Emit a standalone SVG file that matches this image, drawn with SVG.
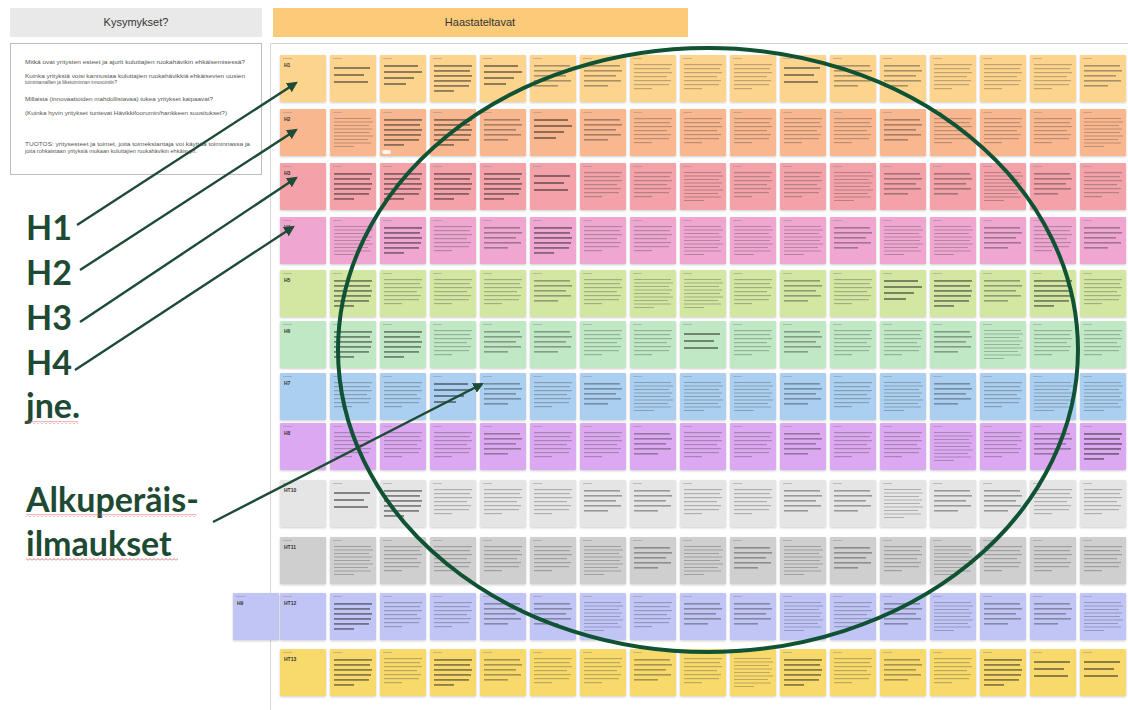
<svg xmlns="http://www.w3.org/2000/svg" xmlns:xlink="http://www.w3.org/1999/xlink" width="1128" height="710" viewBox="0 0 1128 710">
<style>
  .title{font-family:"Liberation Sans",Arial,sans-serif;font-size:11px;fill:#333;text-anchor:middle}
  .q{font-family:"Liberation Sans",Arial,sans-serif;font-size:5.6px;fill:#555}
  .big{font-family:Lato,"Open Sans",sans-serif;font-weight:bold;font-size:34px;fill:#1E4A33}
  .lab{font-family:"Liberation Sans",Arial,sans-serif;font-weight:bold;font-size:5px;fill:#333}
  .n{filter:url(#sh)}
  .hd{fill:#888;opacity:.45}
  .bd rect{fill:#1f1f1f;opacity:.5}
  .md rect{fill:#2a2a2a;opacity:.4}
  .th rect{fill:#333;opacity:.3}
  .r1{fill:#FCD48E}.r2{fill:#F9B78F}.r3{fill:#F2A2A8}.r4{fill:#EFA7D2}
  .r5{fill:#D2E7A2}.r6{fill:#C1E8C5}.r7{fill:#AACFF0}.r8{fill:#DCA8F1}
  .r9{fill:#E5E5E5}.r10{fill:#CFCFCF}.r11{fill:#C1C5F6}.r12{fill:#F8DA6C}
  .conn{stroke:#1D4B36;stroke-width:2.4;fill:none;marker-end:url(#ah)}
  .ring{stroke:#0F5234;stroke-width:4;fill:none}
</style>
<defs>
  <filter id="sh" x="-10%" y="-10%" width="120%" height="125%">
    <feDropShadow dx="0" dy="1" stdDeviation="0.8" flood-color="#000" flood-opacity="0.2"/>
  </filter>
  <marker id="ah" viewBox="0 0 10 10" refX="8" refY="5" markerWidth="4.5" markerHeight="4.5" orient="auto-start-reverse">
    <path d="M0,0 L10,5 L0,10 Z" fill="#1D4B36"/>
  </marker>
  <pattern id="wave" width="4" height="3" patternUnits="userSpaceOnUse">
    <path d="M0,2.5 L2,0.5 L4,2.5" stroke="#E0505A" stroke-width="0.8" fill="none"/>
  </pattern>
  <!-- note body layouts: bold / medium / thin lines of handwriting-sized copy -->
  <g id="tA"><rect class="hd" x="3" y="3" width="9" height="1"/><g class="bd"><rect x="4" y="10" width="34" height="2"/><rect x="4" y="16" width="38" height="2"/><rect x="4" y="22" width="30" height="2"/><rect x="4" y="28" width="22" height="2"/></g></g>
  <g id="tB"><rect class="hd" x="3" y="3" width="9" height="1"/><g class="th"><rect x="4" y="9" width="38" height="1.2"/><rect x="4" y="13" width="36" height="1.2"/><rect x="4" y="17" width="38" height="1.2"/><rect x="4" y="21" width="33" height="1.2"/><rect x="4" y="25" width="37" height="1.2"/><rect x="4" y="29" width="35" height="1.2"/><rect x="4" y="33" width="18" height="1.2"/></g></g>
  <g id="tC"><rect class="hd" x="3" y="3" width="9" height="1"/><g class="md"><rect x="4" y="10" width="36" height="1.6"/><rect x="4" y="15" width="38" height="1.6"/><rect x="4" y="20" width="32" height="1.6"/><rect x="4" y="25" width="37" height="1.6"/><rect x="4" y="30" width="24" height="1.6"/></g></g>
  <g id="tD"><rect class="hd" x="3" y="3" width="9" height="1"/><g class="th"><rect x="4" y="9" width="37" height="1"/><rect x="4" y="12.5" width="39" height="1"/><rect x="4" y="16" width="35" height="1"/><rect x="4" y="19.5" width="38" height="1"/><rect x="4" y="23" width="36" height="1"/><rect x="4" y="26.5" width="39" height="1"/><rect x="4" y="30" width="34" height="1"/><rect x="4" y="33.5" width="37" height="1"/><rect x="4" y="37" width="20" height="1"/></g></g>
  <g id="tE"><rect class="hd" x="3" y="3" width="9" height="1"/><g class="bd"><rect x="4" y="10" width="38" height="1.8"/><rect x="4" y="15" width="36" height="1.8"/><rect x="4" y="20" width="38" height="1.8"/><rect x="4" y="25" width="37" height="1.8"/><rect x="4" y="30" width="35" height="1.8"/><rect x="4" y="35" width="20" height="1.8"/></g></g>
  <g id="tF"><rect class="hd" x="3" y="3" width="9" height="1"/><g class="bd"><rect x="4" y="12" width="36" height="2"/><rect x="4" y="19" width="30" height="2"/><rect x="4" y="26" width="34" height="2"/></g></g>
  <!-- note card: fill comes from the row group -->
  <rect id="nb" class="n" width="46" height="47" rx="1"/>
</defs>

<rect width="1128" height="710" fill="#fff"/>

<!-- column headers -->
<g id="hdr-questions"><rect x="10" y="8" width="252" height="29" fill="#E9E9E9"/><text class="title" x="136" y="26">Kysymykset?</text></g>
<g id="hdr-interviewees"><rect x="273" y="8" width="415" height="29" fill="#FCCB7A"/><text class="title" x="480" y="26">Haastateltavat</text></g>

<!-- research questions -->
<g id="questions">
  <rect x="10.5" y="43.5" width="251" height="131" fill="#fff" stroke="#BDBDBD"/>
  <text class="q" x="25" y="64" textLength="220" lengthAdjust="spacingAndGlyphs">Mitkä ovat yritysten esteet ja ajurit kuluttajien ruokahävikin ehkäisemisessä?</text>
  <text class="q" x="25" y="78" textLength="220" lengthAdjust="spacingAndGlyphs">Kuinka yrityksiä voisi kannustaa kuluttajien ruokahävikkiä ehkäisevien uusien</text>
  <text class="q" x="25" y="84" textLength="92" lengthAdjust="spacingAndGlyphs">toimintamallien ja liiketoiminnan innovointiin?</text>
  <text class="q" x="25" y="101" textLength="188" lengthAdjust="spacingAndGlyphs">Millaista (innovaatioiden mahdollistavaa) tukea yritykset kaipaavat?</text>
  <text class="q" x="25" y="115" textLength="202" lengthAdjust="spacingAndGlyphs">(Kuinka hyvin yritykset tuntevat Hävikkifoorumin/hankkeen suositukset?)</text>
  <text class="q" x="25" y="146" textLength="225" lengthAdjust="spacingAndGlyphs">TUOTOS: yritysesteet ja toimet, joita toimeksiantaja voi käyttää toiminnassa ja</text>
  <text class="q" x="25" y="153" textLength="172" lengthAdjust="spacingAndGlyphs">joita rohkaistaan yrityksiä mukaan kuluttajien ruokahävikin ehkäisyyn.</text>
</g>

<!-- board frame -->
<g id="board-frame" fill="none" stroke="#D6D6D6">
  <path d="M270.5,710 V43.5 H1128"/>
</g>

<!-- annotation labels -->
<g id="labels">
  <text class="big" x="26" y="240">H1</text>
  <text class="big" x="26" y="285">H2</text>
  <text class="big" x="26" y="330">H3</text>
  <text class="big" x="26" y="375">H4</text>
  <text class="big" x="26" y="418">jne.</text>
  <rect x="26" y="421" width="52" height="3" fill="url(#wave)"/>
  <text class="big" x="26" y="512">Alkuperäis-</text>
  <rect x="26" y="514" width="170" height="3" fill="url(#wave)"/>
  <text class="big" x="26" y="556">ilmaukset</text>
  <rect x="26" y="558" width="152" height="3" fill="url(#wave)"/>
</g>

<!-- sticky notes, one row per interviewee -->
<g id="row-h1" class="r1">
<g id="h1-c0" transform="translate(280,55)"><use href="#nb"/><rect class="hd" x="3" y="3" width="9" height="1"/><text class="lab" x="4" y="12">H1</text></g>
<g id="h1-c1" transform="translate(330,55)"><use href="#nb"/><use href="#tF"/></g>
<g id="h1-c2" transform="translate(380,55)"><use href="#nb"/><use href="#tA"/></g>
<g id="h1-c3" transform="translate(430,55)"><use href="#nb"/><use href="#tE"/></g>
<g id="h1-c4" transform="translate(480,55)"><use href="#nb"/><use href="#tA"/></g>
<g id="h1-c5" transform="translate(530,55)"><use href="#nb"/><use href="#tC"/></g>
<g id="h1-c6" transform="translate(580,55)"><use href="#nb"/><use href="#tC"/></g>
<g id="h1-c7" transform="translate(630,55)"><use href="#nb"/><use href="#tB"/></g>
<g id="h1-c8" transform="translate(680,55)"><use href="#nb"/><use href="#tB"/></g>
<g id="h1-c9" transform="translate(730,55)"><use href="#nb"/><use href="#tB"/></g>
<g id="h1-c10" transform="translate(780,55)"><use href="#nb"/><use href="#tF"/></g>
<g id="h1-c11" transform="translate(830,55)"><use href="#nb"/><use href="#tC"/></g>
<g id="h1-c12" transform="translate(880,55)"><use href="#nb"/><use href="#tC"/></g>
<g id="h1-c13" transform="translate(930,55)"><use href="#nb"/><use href="#tB"/></g>
<g id="h1-c14" transform="translate(980,55)"><use href="#nb"/><use href="#tB"/></g>
<g id="h1-c15" transform="translate(1030,55)"><use href="#nb"/><use href="#tB"/></g>
<g id="h1-c16" transform="translate(1080,55)"><use href="#nb"/><use href="#tC"/></g>
</g>
<g id="row-h2" class="r2">
<g id="h2-c0" transform="translate(280,109)"><use href="#nb"/><rect class="hd" x="3" y="3" width="9" height="1"/><text class="lab" x="4" y="12">H2</text></g>
<g id="h2-c1" transform="translate(330,109)"><use href="#nb"/><use href="#tD"/></g>
<g id="h2-c2" transform="translate(380,109)"><use href="#nb"/><use href="#tE"/><rect x="2" y="41" width="9" height="4" rx="2" fill="#fff" opacity=".85"/></g>
<g id="h2-c3" transform="translate(430,109)"><use href="#nb"/><use href="#tE"/></g>
<g id="h2-c4" transform="translate(480,109)"><use href="#nb"/><use href="#tC"/></g>
<g id="h2-c5" transform="translate(530,109)"><use href="#nb"/><use href="#tA"/></g>
<g id="h2-c6" transform="translate(580,109)"><use href="#nb"/><use href="#tC"/></g>
<g id="h2-c7" transform="translate(630,109)"><use href="#nb"/><use href="#tB"/></g>
<g id="h2-c8" transform="translate(680,109)"><use href="#nb"/><use href="#tB"/></g>
<g id="h2-c9" transform="translate(730,109)"><use href="#nb"/><use href="#tB"/></g>
<g id="h2-c10" transform="translate(780,109)"><use href="#nb"/><use href="#tB"/></g>
<g id="h2-c11" transform="translate(830,109)"><use href="#nb"/><use href="#tB"/></g>
<g id="h2-c12" transform="translate(880,109)"><use href="#nb"/><use href="#tC"/></g>
<g id="h2-c13" transform="translate(930,109)"><use href="#nb"/><use href="#tB"/></g>
<g id="h2-c14" transform="translate(980,109)"><use href="#nb"/><use href="#tB"/></g>
<g id="h2-c15" transform="translate(1030,109)"><use href="#nb"/><use href="#tB"/></g>
<g id="h2-c16" transform="translate(1080,109)"><use href="#nb"/><use href="#tD"/></g>
</g>
<g id="row-h3" class="r3">
<g id="h3-c0" transform="translate(280,163)"><use href="#nb"/><rect class="hd" x="3" y="3" width="9" height="1"/><text class="lab" x="4" y="12">H3</text></g>
<g id="h3-c1" transform="translate(330,163)"><use href="#nb"/><use href="#tE"/></g>
<g id="h3-c2" transform="translate(380,163)"><use href="#nb"/><use href="#tE"/></g>
<g id="h3-c3" transform="translate(430,163)"><use href="#nb"/><use href="#tE"/></g>
<g id="h3-c4" transform="translate(480,163)"><use href="#nb"/><use href="#tE"/></g>
<g id="h3-c5" transform="translate(530,163)"><use href="#nb"/><use href="#tF"/></g>
<g id="h3-c6" transform="translate(580,163)"><use href="#nb"/><use href="#tB"/></g>
<g id="h3-c7" transform="translate(630,163)"><use href="#nb"/><use href="#tB"/></g>
<g id="h3-c8" transform="translate(680,163)"><use href="#nb"/><use href="#tD"/></g>
<g id="h3-c9" transform="translate(730,163)"><use href="#nb"/><use href="#tB"/></g>
<g id="h3-c10" transform="translate(780,163)"><use href="#nb"/><use href="#tB"/></g>
<g id="h3-c11" transform="translate(830,163)"><use href="#nb"/><use href="#tD"/></g>
<g id="h3-c12" transform="translate(880,163)"><use href="#nb"/><use href="#tC"/></g>
<g id="h3-c13" transform="translate(930,163)"><use href="#nb"/><use href="#tC"/></g>
<g id="h3-c14" transform="translate(980,163)"><use href="#nb"/><use href="#tD"/></g>
<g id="h3-c15" transform="translate(1030,163)"><use href="#nb"/><use href="#tC"/></g>
<g id="h3-c16" transform="translate(1080,163)"><use href="#nb"/><use href="#tB"/></g>
</g>
<g id="row-h4" class="r4">
<g id="h4-c0" transform="translate(280,217)"><use href="#nb"/><rect class="hd" x="3" y="3" width="9" height="1"/><text class="lab" x="4" y="12">H4</text></g>
<g id="h4-c1" transform="translate(330,217)"><use href="#nb"/><use href="#tD"/></g>
<g id="h4-c2" transform="translate(380,217)"><use href="#nb"/><use href="#tE"/></g>
<g id="h4-c3" transform="translate(430,217)"><use href="#nb"/><use href="#tB"/></g>
<g id="h4-c4" transform="translate(480,217)"><use href="#nb"/><use href="#tC"/></g>
<g id="h4-c5" transform="translate(530,217)"><use href="#nb"/><use href="#tE"/></g>
<g id="h4-c6" transform="translate(580,217)"><use href="#nb"/><use href="#tB"/></g>
<g id="h4-c7" transform="translate(630,217)"><use href="#nb"/><use href="#tB"/></g>
<g id="h4-c8" transform="translate(680,217)"><use href="#nb"/><use href="#tD"/></g>
<g id="h4-c9" transform="translate(730,217)"><use href="#nb"/><use href="#tD"/></g>
<g id="h4-c10" transform="translate(780,217)"><use href="#nb"/><use href="#tD"/></g>
<g id="h4-c11" transform="translate(830,217)"><use href="#nb"/><use href="#tC"/></g>
<g id="h4-c12" transform="translate(880,217)"><use href="#nb"/><use href="#tD"/></g>
<g id="h4-c13" transform="translate(930,217)"><use href="#nb"/><use href="#tD"/></g>
<g id="h4-c14" transform="translate(980,217)"><use href="#nb"/><use href="#tC"/></g>
<g id="h4-c15" transform="translate(1030,217)"><use href="#nb"/><use href="#tB"/></g>
<g id="h4-c16" transform="translate(1080,217)"><use href="#nb"/><use href="#tC"/></g>
</g>
<g id="row-h5" class="r5">
<g id="h5-c0" transform="translate(280,270)"><use href="#nb"/><rect class="hd" x="3" y="3" width="9" height="1"/><text class="lab" x="4" y="12">H5</text></g>
<g id="h5-c1" transform="translate(330,270)"><use href="#nb"/><use href="#tE"/></g>
<g id="h5-c2" transform="translate(380,270)"><use href="#nb"/><use href="#tB"/></g>
<g id="h5-c3" transform="translate(430,270)"><use href="#nb"/><use href="#tB"/></g>
<g id="h5-c4" transform="translate(480,270)"><use href="#nb"/><use href="#tB"/></g>
<g id="h5-c5" transform="translate(530,270)"><use href="#nb"/><use href="#tC"/></g>
<g id="h5-c6" transform="translate(580,270)"><use href="#nb"/><use href="#tB"/></g>
<g id="h5-c7" transform="translate(630,270)"><use href="#nb"/><use href="#tD"/></g>
<g id="h5-c8" transform="translate(680,270)"><use href="#nb"/><use href="#tD"/></g>
<g id="h5-c9" transform="translate(730,270)"><use href="#nb"/><use href="#tB"/></g>
<g id="h5-c10" transform="translate(780,270)"><use href="#nb"/><use href="#tC"/></g>
<g id="h5-c11" transform="translate(830,270)"><use href="#nb"/><use href="#tB"/></g>
<g id="h5-c12" transform="translate(880,270)"><use href="#nb"/><use href="#tA"/></g>
<g id="h5-c13" transform="translate(930,270)"><use href="#nb"/><use href="#tE"/></g>
<g id="h5-c14" transform="translate(980,270)"><use href="#nb"/><use href="#tC"/></g>
<g id="h5-c15" transform="translate(1030,270)"><use href="#nb"/><use href="#tE"/></g>
<g id="h5-c16" transform="translate(1080,270)"><use href="#nb"/><use href="#tB"/></g>
</g>
<g id="row-h6" class="r6">
<g id="h6-c0" transform="translate(280,321)"><use href="#nb"/><rect class="hd" x="3" y="3" width="9" height="1"/><text class="lab" x="4" y="12">H6</text></g>
<g id="h6-c1" transform="translate(330,321)"><use href="#nb"/><use href="#tE"/></g>
<g id="h6-c2" transform="translate(380,321)"><use href="#nb"/><use href="#tE"/></g>
<g id="h6-c3" transform="translate(430,321)"><use href="#nb"/><use href="#tB"/></g>
<g id="h6-c4" transform="translate(480,321)"><use href="#nb"/><use href="#tC"/></g>
<g id="h6-c5" transform="translate(530,321)"><use href="#nb"/><use href="#tC"/></g>
<g id="h6-c6" transform="translate(580,321)"><use href="#nb"/><use href="#tB"/></g>
<g id="h6-c7" transform="translate(630,321)"><use href="#nb"/><use href="#tB"/></g>
<g id="h6-c8" transform="translate(680,321)"><use href="#nb"/><use href="#tF"/></g>
<g id="h6-c9" transform="translate(730,321)"><use href="#nb"/><use href="#tB"/></g>
<g id="h6-c10" transform="translate(780,321)"><use href="#nb"/><use href="#tC"/></g>
<g id="h6-c11" transform="translate(830,321)"><use href="#nb"/><use href="#tB"/></g>
<g id="h6-c12" transform="translate(880,321)"><use href="#nb"/><use href="#tB"/></g>
<g id="h6-c13" transform="translate(930,321)"><use href="#nb"/><use href="#tC"/></g>
<g id="h6-c14" transform="translate(980,321)"><use href="#nb"/><use href="#tD"/></g>
<g id="h6-c15" transform="translate(1030,321)"><use href="#nb"/><use href="#tB"/></g>
<g id="h6-c16" transform="translate(1080,321)"><use href="#nb"/><use href="#tB"/></g>
</g>
<g id="row-h7" class="r7">
<g id="h7-c0" transform="translate(280,373)"><use href="#nb"/><rect class="hd" x="3" y="3" width="9" height="1"/><text class="lab" x="4" y="12">H7</text></g>
<g id="h7-c1" transform="translate(330,373)"><use href="#nb"/><use href="#tB"/></g>
<g id="h7-c2" transform="translate(380,373)"><use href="#nb"/><use href="#tB"/></g>
<g id="h7-c3" transform="translate(430,373)"><use href="#nb"/><use href="#tA"/></g>
<g id="h7-c4" transform="translate(480,373)"><use href="#nb"/><use href="#tC"/></g>
<g id="h7-c5" transform="translate(530,373)"><use href="#nb"/><use href="#tB"/></g>
<g id="h7-c6" transform="translate(580,373)"><use href="#nb"/><use href="#tC"/></g>
<g id="h7-c7" transform="translate(630,373)"><use href="#nb"/><use href="#tD"/></g>
<g id="h7-c8" transform="translate(680,373)"><use href="#nb"/><use href="#tD"/></g>
<g id="h7-c9" transform="translate(730,373)"><use href="#nb"/><use href="#tD"/></g>
<g id="h7-c10" transform="translate(780,373)"><use href="#nb"/><use href="#tC"/></g>
<g id="h7-c11" transform="translate(830,373)"><use href="#nb"/><use href="#tB"/></g>
<g id="h7-c12" transform="translate(880,373)"><use href="#nb"/><use href="#tD"/></g>
<g id="h7-c13" transform="translate(930,373)"><use href="#nb"/><use href="#tC"/></g>
<g id="h7-c14" transform="translate(980,373)"><use href="#nb"/><use href="#tB"/></g>
<g id="h7-c15" transform="translate(1030,373)"><use href="#nb"/><use href="#tD"/></g>
<g id="h7-c16" transform="translate(1080,373)"><use href="#nb"/><use href="#tD"/></g>
</g>
<g id="row-h8" class="r8">
<g id="h8-c0" transform="translate(280,423)"><use href="#nb"/><rect class="hd" x="3" y="3" width="9" height="1"/><text class="lab" x="4" y="12">H8</text></g>
<g id="h8-c1" transform="translate(330,423)"><use href="#nb"/><use href="#tB"/></g>
<g id="h8-c2" transform="translate(380,423)"><use href="#nb"/><use href="#tB"/></g>
<g id="h8-c3" transform="translate(430,423)"><use href="#nb"/><use href="#tB"/></g>
<g id="h8-c4" transform="translate(480,423)"><use href="#nb"/><use href="#tC"/></g>
<g id="h8-c5" transform="translate(530,423)"><use href="#nb"/><use href="#tB"/></g>
<g id="h8-c6" transform="translate(580,423)"><use href="#nb"/><use href="#tB"/></g>
<g id="h8-c7" transform="translate(630,423)"><use href="#nb"/><use href="#tC"/></g>
<g id="h8-c8" transform="translate(680,423)"><use href="#nb"/><use href="#tB"/></g>
<g id="h8-c9" transform="translate(730,423)"><use href="#nb"/><use href="#tB"/></g>
<g id="h8-c10" transform="translate(780,423)"><use href="#nb"/><use href="#tC"/></g>
<g id="h8-c11" transform="translate(830,423)"><use href="#nb"/><use href="#tB"/></g>
<g id="h8-c12" transform="translate(880,423)"><use href="#nb"/><use href="#tB"/></g>
<g id="h8-c13" transform="translate(930,423)"><use href="#nb"/><use href="#tD"/></g>
<g id="h8-c14" transform="translate(980,423)"><use href="#nb"/><use href="#tB"/></g>
<g id="h8-c15" transform="translate(1030,423)"><use href="#nb"/><use href="#tC"/></g>
<g id="h8-c16" transform="translate(1080,423)"><use href="#nb"/><use href="#tE"/></g>
</g>
<g id="row-ht10" class="r9">
<g id="ht10-c0" transform="translate(280,480)"><use href="#nb"/><rect class="hd" x="3" y="3" width="9" height="1"/><text class="lab" x="4" y="12">HT10</text></g>
<g id="ht10-c1" transform="translate(330,480)"><use href="#nb"/><use href="#tF"/></g>
<g id="ht10-c2" transform="translate(380,480)"><use href="#nb"/><use href="#tE"/></g>
<g id="ht10-c3" transform="translate(430,480)"><use href="#nb"/><use href="#tB"/></g>
<g id="ht10-c4" transform="translate(480,480)"><use href="#nb"/><use href="#tB"/></g>
<g id="ht10-c5" transform="translate(530,480)"><use href="#nb"/><use href="#tB"/></g>
<g id="ht10-c6" transform="translate(580,480)"><use href="#nb"/><use href="#tC"/></g>
<g id="ht10-c7" transform="translate(630,480)"><use href="#nb"/><use href="#tC"/></g>
<g id="ht10-c8" transform="translate(680,480)"><use href="#nb"/><use href="#tB"/></g>
<g id="ht10-c9" transform="translate(730,480)"><use href="#nb"/><use href="#tB"/></g>
<g id="ht10-c10" transform="translate(780,480)"><use href="#nb"/><use href="#tC"/></g>
<g id="ht10-c11" transform="translate(830,480)"><use href="#nb"/><use href="#tC"/></g>
<g id="ht10-c12" transform="translate(880,480)"><use href="#nb"/><use href="#tD"/></g>
<g id="ht10-c13" transform="translate(930,480)"><use href="#nb"/><use href="#tC"/></g>
<g id="ht10-c14" transform="translate(980,480)"><use href="#nb"/><use href="#tC"/></g>
<g id="ht10-c15" transform="translate(1030,480)"><use href="#nb"/><use href="#tB"/></g>
<g id="ht10-c16" transform="translate(1080,480)"><use href="#nb"/><use href="#tB"/></g>
</g>
<g id="row-ht11" class="r10">
<g id="ht11-c0" transform="translate(280,537)"><use href="#nb"/><rect class="hd" x="3" y="3" width="9" height="1"/><text class="lab" x="4" y="12">HT11</text></g>
<g id="ht11-c1" transform="translate(330,537)"><use href="#nb"/><use href="#tD"/></g>
<g id="ht11-c2" transform="translate(380,537)"><use href="#nb"/><use href="#tB"/></g>
<g id="ht11-c3" transform="translate(430,537)"><use href="#nb"/><use href="#tB"/></g>
<g id="ht11-c4" transform="translate(480,537)"><use href="#nb"/><use href="#tB"/></g>
<g id="ht11-c5" transform="translate(530,537)"><use href="#nb"/><use href="#tB"/></g>
<g id="ht11-c6" transform="translate(580,537)"><use href="#nb"/><use href="#tD"/></g>
<g id="ht11-c7" transform="translate(630,537)"><use href="#nb"/><use href="#tC"/></g>
<g id="ht11-c8" transform="translate(680,537)"><use href="#nb"/><use href="#tD"/></g>
<g id="ht11-c9" transform="translate(730,537)"><use href="#nb"/><use href="#tC"/></g>
<g id="ht11-c10" transform="translate(780,537)"><use href="#nb"/><use href="#tD"/></g>
<g id="ht11-c11" transform="translate(830,537)"><use href="#nb"/><use href="#tC"/></g>
<g id="ht11-c12" transform="translate(880,537)"><use href="#nb"/><use href="#tB"/></g>
<g id="ht11-c13" transform="translate(930,537)"><use href="#nb"/><use href="#tD"/></g>
<g id="ht11-c14" transform="translate(980,537)"><use href="#nb"/><use href="#tB"/></g>
<g id="ht11-c15" transform="translate(1030,537)"><use href="#nb"/><use href="#tB"/></g>
<g id="ht11-c16" transform="translate(1080,537)"><use href="#nb"/><use href="#tB"/></g>
</g>
<g id="row-ht12" class="r11">
<g id="h9" transform="translate(233,593)"><use href="#nb"/><rect class="hd" x="3" y="3" width="9" height="1"/><text class="lab" x="4" y="12">H9</text></g>
<g id="ht12-c0" transform="translate(280,593)"><use href="#nb"/><rect class="hd" x="3" y="3" width="9" height="1"/><text class="lab" x="4" y="12">HT12</text></g>
<g id="ht12-c1" transform="translate(330,593)"><use href="#nb"/><use href="#tE"/></g>
<g id="ht12-c2" transform="translate(380,593)"><use href="#nb"/><use href="#tB"/></g>
<g id="ht12-c3" transform="translate(430,593)"><use href="#nb"/><use href="#tB"/></g>
<g id="ht12-c4" transform="translate(480,593)"><use href="#nb"/><use href="#tC"/></g>
<g id="ht12-c5" transform="translate(530,593)"><use href="#nb"/><use href="#tC"/></g>
<g id="ht12-c6" transform="translate(580,593)"><use href="#nb"/><use href="#tD"/></g>
<g id="ht12-c7" transform="translate(630,593)"><use href="#nb"/><use href="#tB"/></g>
<g id="ht12-c8" transform="translate(680,593)"><use href="#nb"/><use href="#tC"/></g>
<g id="ht12-c9" transform="translate(730,593)"><use href="#nb"/><use href="#tC"/></g>
<g id="ht12-c10" transform="translate(780,593)"><use href="#nb"/><use href="#tD"/></g>
<g id="ht12-c11" transform="translate(830,593)"><use href="#nb"/><use href="#tB"/></g>
<g id="ht12-c12" transform="translate(880,593)"><use href="#nb"/><use href="#tC"/></g>
<g id="ht12-c13" transform="translate(930,593)"><use href="#nb"/><use href="#tD"/></g>
<g id="ht12-c14" transform="translate(980,593)"><use href="#nb"/><use href="#tC"/></g>
<g id="ht12-c15" transform="translate(1030,593)"><use href="#nb"/><use href="#tC"/></g>
<g id="ht12-c16" transform="translate(1080,593)"><use href="#nb"/><use href="#tD"/></g>
</g>
<g id="row-ht13" class="r12">
<g id="ht13-c0" transform="translate(280,649)"><use href="#nb"/><rect class="hd" x="3" y="3" width="9" height="1"/><text class="lab" x="4" y="12">HT13</text></g>
<g id="ht13-c1" transform="translate(330,649)"><use href="#nb"/><use href="#tE"/></g>
<g id="ht13-c2" transform="translate(380,649)"><use href="#nb"/><use href="#tB"/></g>
<g id="ht13-c3" transform="translate(430,649)"><use href="#nb"/><use href="#tE"/></g>
<g id="ht13-c4" transform="translate(480,649)"><use href="#nb"/><use href="#tC"/></g>
<g id="ht13-c5" transform="translate(530,649)"><use href="#nb"/><use href="#tB"/></g>
<g id="ht13-c6" transform="translate(580,649)"><use href="#nb"/><use href="#tB"/></g>
<g id="ht13-c7" transform="translate(630,649)"><use href="#nb"/><use href="#tC"/></g>
<g id="ht13-c8" transform="translate(680,649)"><use href="#nb"/><use href="#tB"/></g>
<g id="ht13-c9" transform="translate(730,649)"><use href="#nb"/><use href="#tD"/></g>
<g id="ht13-c10" transform="translate(780,649)"><use href="#nb"/><use href="#tE"/></g>
<g id="ht13-c11" transform="translate(830,649)"><use href="#nb"/><use href="#tB"/></g>
<g id="ht13-c12" transform="translate(880,649)"><use href="#nb"/><use href="#tC"/></g>
<g id="ht13-c13" transform="translate(930,649)"><use href="#nb"/><use href="#tB"/></g>
<g id="ht13-c14" transform="translate(980,649)"><use href="#nb"/><use href="#tE"/></g>
<g id="ht13-c15" transform="translate(1030,649)"><use href="#nb"/><use href="#tF"/></g>
<g id="ht13-c16" transform="translate(1080,649)"><use href="#nb"/><use href="#tF"/></g>
</g>

<!-- highlight ring around the quotes -->
<g id="highlight">
  <ellipse class="ring" cx="708" cy="350" rx="370" ry="302"/>
</g>

<!-- pointer arrows from labels -->
<g id="connectors">
  <path class="conn" d="M77,225 L296,83"/>
  <path class="conn" d="M80,270 L296,130"/>
  <path class="conn" d="M80,322 L296,178"/>
  <path class="conn" d="M75,370 L293,227"/>
  <path class="conn" d="M213,522 L482,384"/>
</g>
</svg>
